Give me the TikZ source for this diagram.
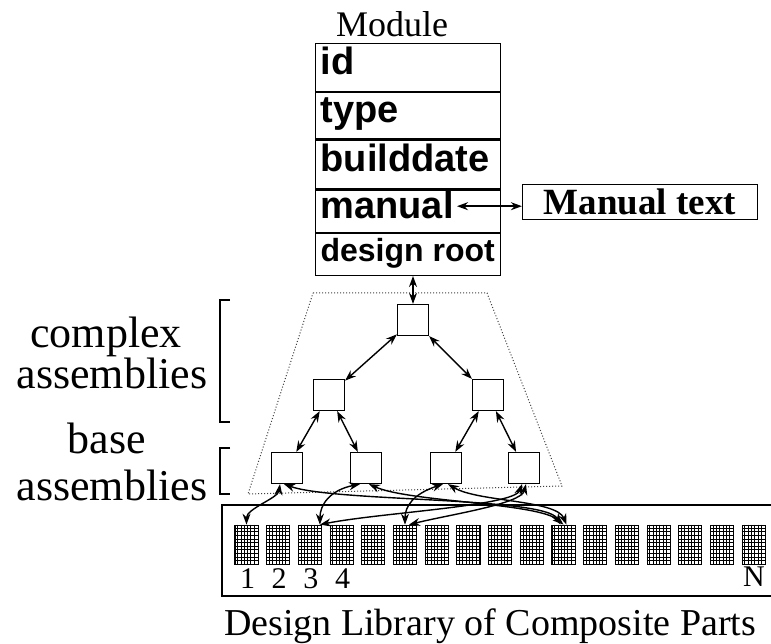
\documentclass[tikz,border=0pt]{standalone}
\usepackage{fontspec}
\setmainfont{Liberation Serif}
\newfontfamily\fieldfont{Liberation Sans}
\usetikzlibrary{arrows.meta, calc}
\newcommand{\fieldtext}[1]{\makebox[175pt][l]{#1}}

\begin{document}
\begin{tikzpicture}[x=1pt, y=-1pt,
  >={Stealth[length=11pt,width=8pt]},
  link/.style={<->, line width=1.4pt},
  fieldrow/.style={draw, line width=1.2pt, anchor=north west, minimum width=185pt,
    inner xsep=5pt, inner ysep=0pt, text height=25pt, text depth=11pt,
    font=\fieldfont\bfseries\fontsize{38pt}{40pt}\selectfont},
  asmbox/.style={draw, line width=1.2pt, minimum size=31pt, inner sep=0pt},
  part/.style={draw, line width=1.1pt, minimum width=23.1pt, minimum height=39.6pt, inner sep=0pt},
  mesh/.style={line width=0.9pt},
  hull/.style={dotted, line width=1pt, black!75},
  bracket/.style={line width=1.2pt},
  sidelabel/.style={anchor=base, inner sep=0pt, font=\fontsize{44pt}{48pt}\selectfont},
  numlabel/.style={anchor=base, inner sep=0pt, font=\fontsize{30pt}{32pt}\selectfont}]
  \useasboundingbox (0,0) rectangle (771,644);

  % Module record
  \node[anchor=base, inner sep=0pt, font=\fontsize{36pt}{40pt}\selectfont] (modtitle) at (392,37) {Module};
  \node[fieldrow, minimum height=48pt] (fid) at (315,43) {\fieldtext{id}};
  \node[fieldrow, minimum height=46pt] (ftype) at (fid.south west) {\fieldtext{type}};
  \node[fieldrow, minimum height=49pt] (fdate) at (ftype.south west) {\fieldtext{builddate}};
  \node[fieldrow, minimum height=42pt] (fmanual) at (fdate.south west) {\fieldtext{manual}};
  \node[fieldrow, minimum height=42pt, font=\fieldfont\bfseries\fontsize{32pt}{34pt}\selectfont] (froot) at (fmanual.south west) {\fieldtext{design root}};

  \node[draw, line width=1.2pt, minimum width=235pt, minimum height=35pt, inner sep=0pt,
    font=\bfseries\fontsize{37pt}{40pt}\selectfont] (mtext) at (640,202) {Manual text};
  \coordinate (manend) at ($(fmanual.west)+(142,-5)$);
  \draw[link] (manend) -- (manend -| mtext.west);

  % assembly hierarchy
  \draw[hull] (313,293) -- (487,293) -- (562,486) -- (248,494) -- cycle;
  \node[asmbox] (root) at (413,320) {};
  \node[asmbox] (asmL) at (329,395) {};
  \node[asmbox] (asmR) at (488,395) {};
  \node[asmbox] (base1) at (287,468) {};
  \node[asmbox] (base2) at (366,468) {};
  \node[asmbox] (base3) at (446,468) {};
  \node[asmbox] (base4) at (524,468) {};

  \draw[link] (root.north |- froot.south) -- (root.north);
  \draw[link] (root) -- (asmL);
  \draw[link] (root) -- (asmR);
  \draw[link] (asmL) -- (base1);
  \draw[link] (asmL) -- (base2);
  \draw[link] (asmR) -- (base3);
  \draw[link] (asmR) -- (base4);

  % level brackets
  \draw[bracket] (230,300) -- (220,300) -- (220,422) -- (230,422);
  \draw[bracket] (230,448) -- (220,448) -- (220,494) -- (230,494);
  \node[sidelabel] (cplxA) at (106,347) {complex};
  \node[sidelabel] (cplxB) at (112,388) {assemblies};
  \node[sidelabel] (baseA) at (107,453) {base};
  \node[sidelabel] (baseB) at (112,500) {assemblies};

  % library of parts
  \draw[line width=1.6pt] (771,596) -- (222,596) -- (222,505);
  \draw[line width=2.6pt] (221,505) -- (771,505);
  \foreach \i in {1,...,17} {
    \node[part] (p\i) at ({246.5+(\i-1)*31.7}, 545) {};
    \foreach \k in {1,...,6}
      \draw[mesh] ($(p\i.north west)+(\k*3.3,0)$) -- ++(0,39.6);
    \foreach \j in {1,...,10}
      \draw[mesh] ($(p\i.north west)+(0,\j*3.6)$) -- ++(23.1,0);
  }
  \foreach \i in {1,...,4}
    \node[numlabel] (n\i) at ({247.5+(\i-1)*31.7}, 588) {\i};
  \node[numlabel] (nN) at (754,586) {N};
  \node[anchor=base, inner sep=0pt, font=\fontsize{38pt}{42pt}\selectfont] (libcap) at (490,635) {Design Library of Composite Parts};

  % references from base assemblies into the library
  \draw[link] ([xshift=-7pt]base1.south) .. controls +(-2,14) and +(0,-16) .. (p1.north);
  \draw[link] ([xshift=-3pt]base1.south) .. controls +(50,18) and +(-15,-28) .. ([xshift=-3pt]p11.north);
  \draw[link] ([xshift=-6pt]base2.south) .. controls +(-30,6) and +(0,-20) .. ([xshift=10pt]p3.north);
  \draw[link] ([xshift=3pt]base2.south) .. controls +(40,18) and +(-25,-22) .. (p11.north);
  \draw[link] ([xshift=-3pt]base3.south) .. controls +(-30,10) and +(0,-18) .. (p6.north);
  \draw[link] ([xshift=2pt]base3.south) .. controls +(30,18) and +(-10,-25) .. ([xshift=3pt]p11.north);
  \draw[link] ([xshift=-2pt]base4.south) .. controls +(-8,22) and +(60,-12) .. ([xshift=10pt]p3.north);
  \draw[link] ([xshift=2pt]base4.south) .. controls +(-5,20) and +(40,-10) .. ([xshift=4pt]p6.north);
\end{tikzpicture}
\end{document}
